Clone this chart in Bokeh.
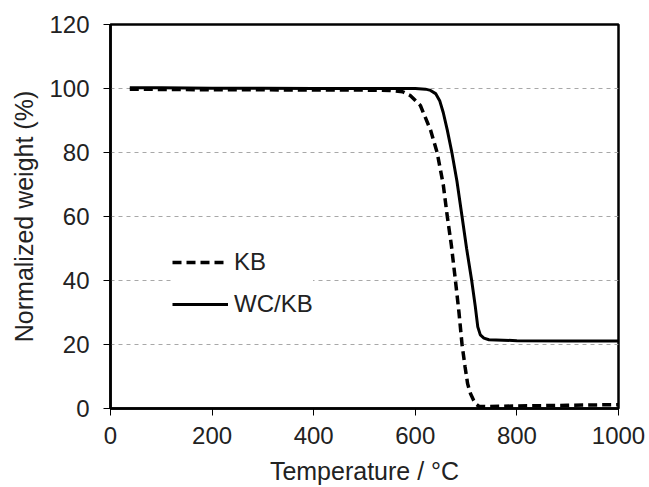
from bokeh.plotting import figure
from bokeh.models import Legend, LegendItem, FixedTicker, Range1d
from bokeh.embed import file_html
from bokeh.resources import INLINE

# Data
kb_temp = [38, 100, 200, 300, 400, 500, 550, 575, 590, 610, 630, 643, 655, 663, 671,
           679, 686, 692, 698, 703, 709, 715, 720, 725, 740, 800, 850, 900, 950, 1000]
kb_weight = [99.8, 99.7, 99.6, 99.6, 99.5, 99.5, 99.4, 99.0, 97.8, 94.7, 87.0, 80.0, 70.0, 60.0, 51.0,
             40.0, 30.0, 20.0, 13.0, 7.7, 4.5, 2.5, 1.3, 0.7, 0.6, 0.8, 0.9, 1.0, 1.1, 1.2]

wc_temp = [38, 100, 200, 300, 400, 500, 600, 620, 630, 640, 648, 655, 663, 672, 682,
           692, 701, 711, 718, 723, 728, 735, 745, 800, 900, 1000]
wc_weight = [100.2, 100.2, 100.1, 100.1, 100.0, 100.0, 100.0, 99.8, 99.4, 98.4, 96.2, 92.5, 87.0, 80.0, 71.0,
             60.0, 50.0, 40.0, 32.0, 25.5, 23.0, 22.0, 21.5, 21.2, 21.1, 21.1]

x_ticks = [0, 200, 400, 600, 800, 1000]
y_ticks = [0, 20, 40, 60, 80, 100, 120]
series_names = ["KB", "WC/KB"]

FONT = "Liberation Sans"

p = figure(width=649, height=487, output_backend="svg", toolbar_location=None,
           x_range=Range1d(0, 1000), y_range=Range1d(0, 120),
           min_border_left=110, min_border_right=31, min_border_top=24, min_border_bottom=79)

p.background_fill_color = "white"
p.border_fill_color = "white"
p.outline_line_color = "black"
p.outline_line_width = 2.5

# Grid
p.xgrid.grid_line_color = None
p.ygrid.grid_line_color = "#a8a8a8"
p.ygrid.grid_line_dash = "4 4"
p.ygrid.grid_line_width = 1
p.ygrid.ticker = FixedTicker(ticks=[20, 40, 60, 80, 100])

for ax in (p.xaxis[0], p.yaxis[0]):
    ax.axis_line_color = "black"
    ax.axis_line_width = 2.5
    ax.major_tick_line_color = "black"
    ax.major_tick_line_width = 1
    ax.major_tick_out = 7
    ax.major_tick_in = 0
    ax.minor_tick_line_color = None
    ax.major_label_text_font = FONT
    ax.major_label_text_font_size = "24px"
    ax.major_label_text_color = "#222222"
    ax.axis_label_text_font = FONT
    ax.axis_label_text_font_size = "25px"
    ax.axis_label_text_font_style = "normal"
    ax.axis_label_text_color = "#222222"

p.xaxis.ticker = FixedTicker(ticks=x_ticks)
p.yaxis.ticker = FixedTicker(ticks=y_ticks)
p.xaxis.major_label_standoff = 11
p.yaxis.major_label_standoff = 14
p.xaxis.axis_label = "Temperature / °C"
p.yaxis.axis_label = "Normalized weight (%)"
p.xaxis.axis_label_standoff = 10
p.yaxis.axis_label_standoff = 8

r_kb = p.line(kb_temp, kb_weight, line_color="black", line_width=3.5, line_dash="9 5")
r_wc = p.line(wc_temp, wc_weight, line_color="black", line_width=3)

legend = Legend(items=[LegendItem(label=series_names[0], renderers=[r_kb]),
                       LegendItem(label=series_names[1], renderers=[r_wc])],
                location=(62, 89))
legend.label_text_font = FONT
legend.label_text_font_size = "24px"
legend.label_text_color = "#222222"
legend.glyph_width = 56
legend.glyph_height = 30
legend.spacing = 12
legend.padding = 20
legend.label_standoff = 6
legend.border_line_color = None
legend.background_fill_color = "white"
legend.background_fill_alpha = 1.0
p.add_layout(legend)

open("out.html", "w").write(file_html(p, INLINE))
